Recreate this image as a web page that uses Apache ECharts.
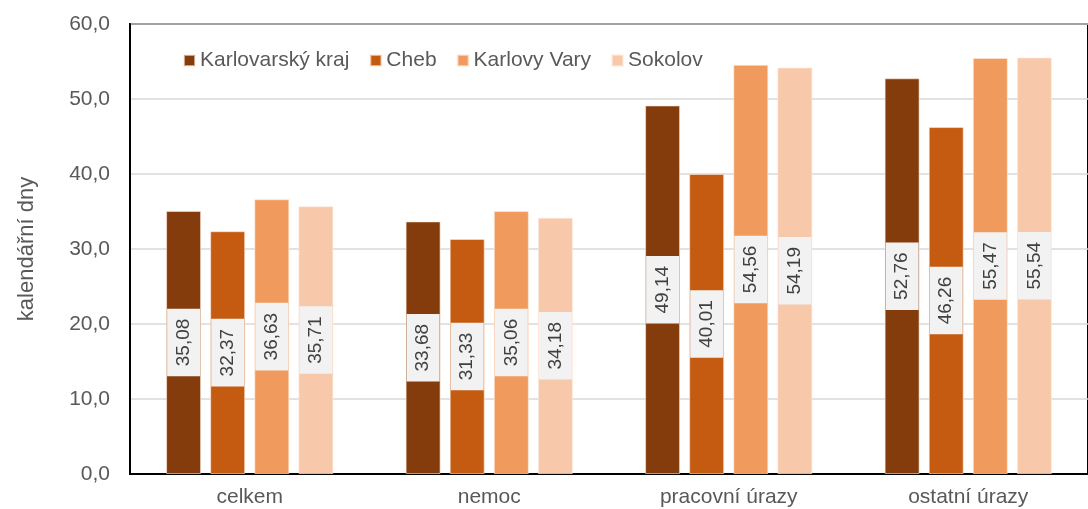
<!DOCTYPE html>
<html>
<head>
<meta charset="utf-8">
<script src="https://cdn.jsdelivr.net/npm/echarts@6/dist/echarts.min.js"></script>
<style>html,body{margin:0;padding:0;background:#fff}#c{width:1088px;height:509px}</style>
</head>
<body>
<div id="c"></div>
<script>
const categories = ['celkem', 'nemoc', 'pracovní úrazy', 'ostatní úrazy'];
const seriesNames = ['Karlovarský kraj', 'Cheb', 'Karlovy Vary', 'Sokolov'];
const karlovarskyKraj = [35.08, 33.68, 49.14, 52.76];
const cheb = [32.37, 31.33, 40.01, 46.26];
const karlovyVary = [36.63, 35.06, 54.56, 55.47];
const sokolov = [35.71, 34.18, 54.19, 55.54];
const colors = ['#843C0C', '#C55A11', '#F19A5E', '#F7C9AA'];
const yTicks = [0, 10, 20, 30, 40, 50, 60];

const data = [karlovarskyKraj, cheb, karlovyVary, sokolov];
const font = 'Liberation Sans, Arial, sans-serif';
const chart = echarts.init(document.getElementById('c'));
chart.setOption({
  animation: false,
  color: colors,
  grid: { left: 130, top: 24, width: 968, height: 450, show: true, borderColor: '#000', borderWidth: 2, backgroundColor: 'transparent' },
  legend: {
    left: 178, top: 45, itemWidth: 11, itemHeight: 11, itemGap: 20, icon: 'rect',
    textStyle: { fontFamily: font, fontSize: 21, color: '#595959', padding: [0, 0, 0, 0] },
    data: seriesNames
  },
  xAxis: {
    type: 'category', data: categories,
    axisLine: { lineStyle: { color: '#000', width: 2 } },
    axisTick: { show: false },
    axisLabel: { fontFamily: font, fontSize: 21, color: '#595959', margin: 13 }
  },
  yAxis: {
    type: 'value', min: yTicks[0], max: yTicks[yTicks.length - 1], interval: 10,
    name: 'kalendářní dny', nameLocation: 'middle', nameGap: 92,
    nameTextStyle: { fontFamily: font, fontSize: 22, color: '#595959' },
    axisLine: { show: true, lineStyle: { color: '#000', width: 2 } },
    axisTick: { show: false },
    splitLine: { lineStyle: { color: '#d9d9d9', width: 1.5 } },
    axisLabel: { fontFamily: font, fontSize: 21, color: '#595959', margin: 20, formatter: v => v.toFixed(1).replace('.', ',') }
  },
  series: seriesNames.map((n, i) => ({
    name: n, type: 'bar', data: data[i], barWidth: 35, barGap: '26%',
    itemStyle: { color: colors[i], borderColor: 'rgba(255,235,220,0.6)', borderWidth: 1 },
    label: {
      show: true, position: 'inside', rotate: 90,
      formatter: p => p.value.toFixed(2).replace('.', ','),
      fontFamily: font, fontSize: 19, color: '#404040',
      backgroundColor: '#f2f2f2', padding: [8, 10, 6, 10]
    }
  }))
});
</script>
</body>
</html>
